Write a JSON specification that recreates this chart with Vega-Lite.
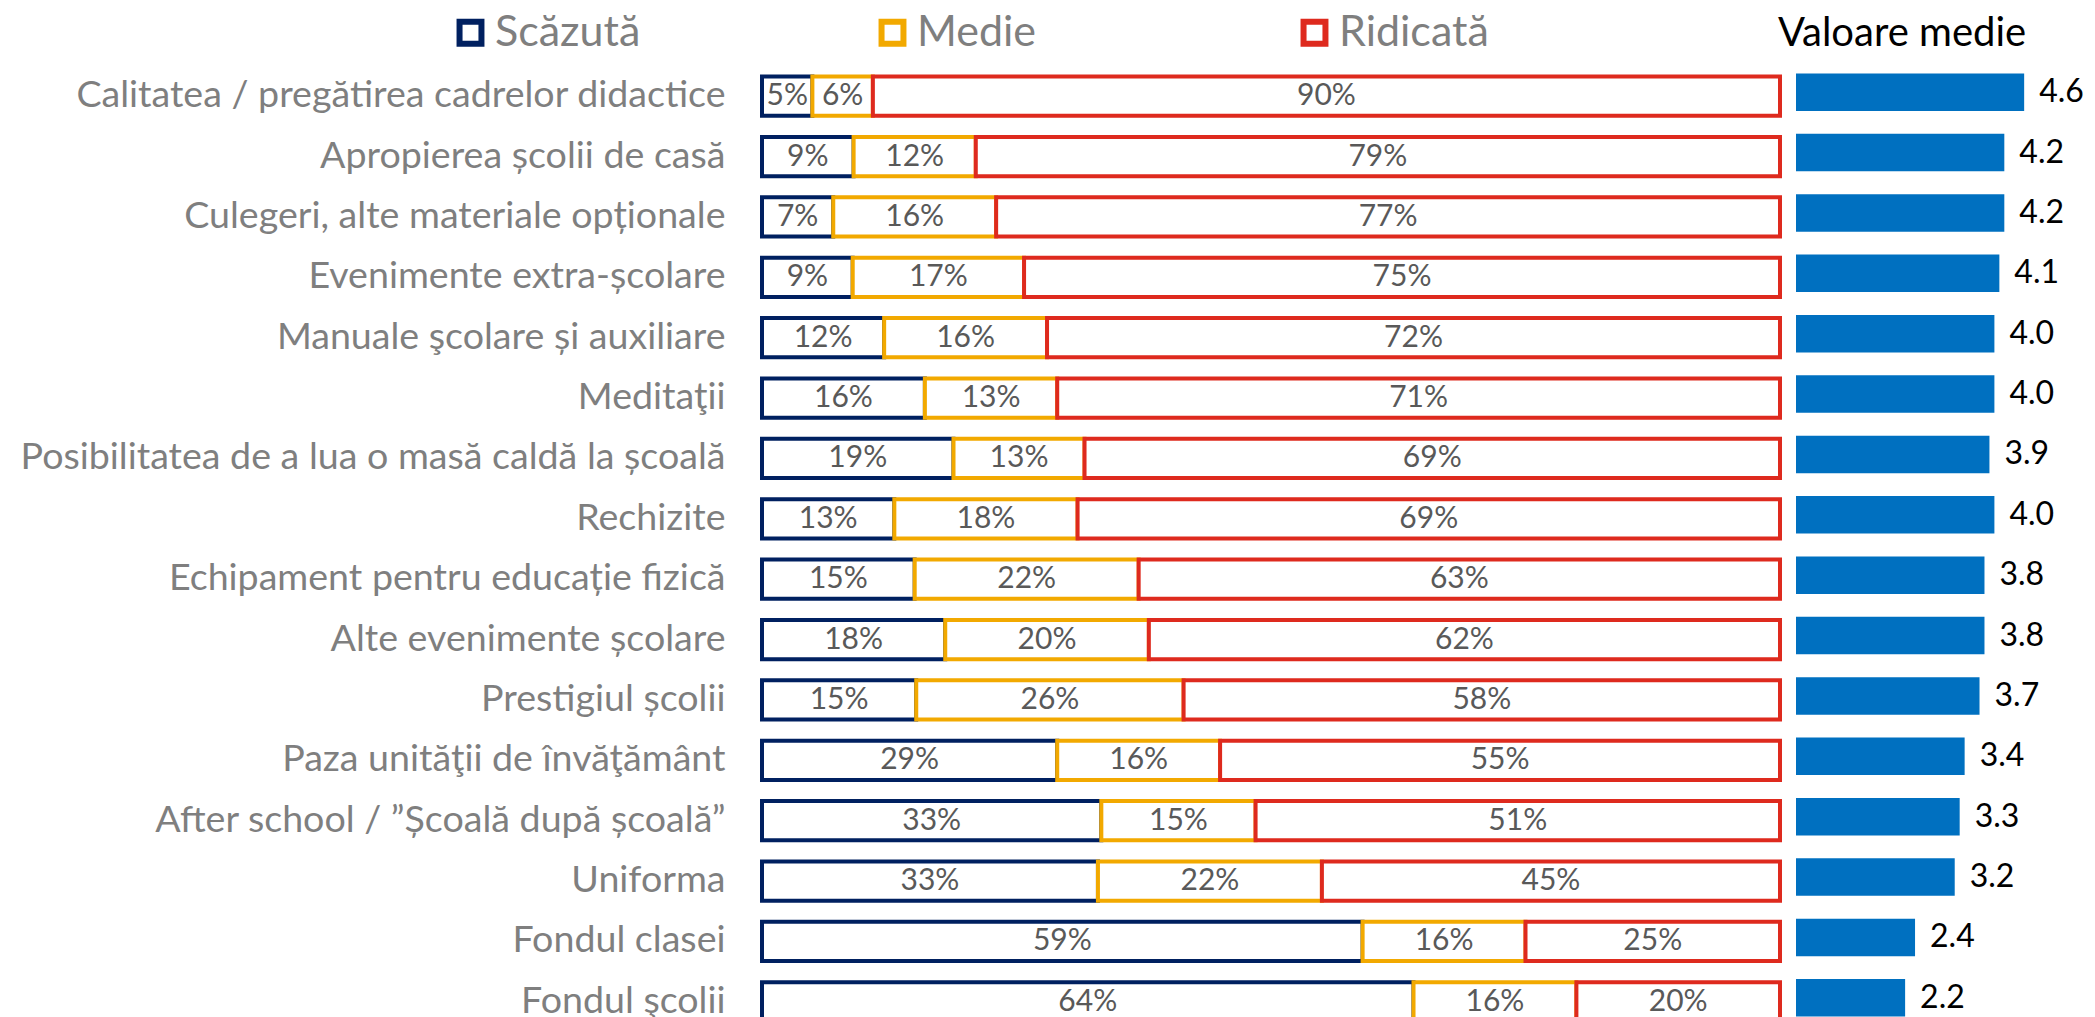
{
  "$schema": "https://vega.github.io/schema/vega-lite/v6.json",
  "background": "white",
  "padding": {"left": 5, "top": 11, "right": 5, "bottom": 5},
  "bounds": "flush",
  "config": {
    "view": {"stroke": null},
    "font": "Lato",
    "concat": {"spacing": 16}
  },
  "datasets": {
    "shares": [
      {"item": "Calitatea / pregătirea cadrelor didactice", "level": "Scăzută", "pct": 5},
      {"item": "Calitatea / pregătirea cadrelor didactice", "level": "Medie", "pct": 6},
      {"item": "Calitatea / pregătirea cadrelor didactice", "level": "Ridicată", "pct": 90},
      {"item": "Apropierea școlii de casă", "level": "Scăzută", "pct": 9},
      {"item": "Apropierea școlii de casă", "level": "Medie", "pct": 12},
      {"item": "Apropierea școlii de casă", "level": "Ridicată", "pct": 79},
      {"item": "Culegeri, alte materiale opționale", "level": "Scăzută", "pct": 7},
      {"item": "Culegeri, alte materiale opționale", "level": "Medie", "pct": 16},
      {"item": "Culegeri, alte materiale opționale", "level": "Ridicată", "pct": 77},
      {"item": "Evenimente extra-școlare", "level": "Scăzută", "pct": 9},
      {"item": "Evenimente extra-școlare", "level": "Medie", "pct": 17},
      {"item": "Evenimente extra-școlare", "level": "Ridicată", "pct": 75},
      {"item": "Manuale şcolare și auxiliare", "level": "Scăzută", "pct": 12},
      {"item": "Manuale şcolare și auxiliare", "level": "Medie", "pct": 16},
      {"item": "Manuale şcolare și auxiliare", "level": "Ridicată", "pct": 72},
      {"item": "Meditaţii", "level": "Scăzută", "pct": 16},
      {"item": "Meditaţii", "level": "Medie", "pct": 13},
      {"item": "Meditaţii", "level": "Ridicată", "pct": 71},
      {"item": "Posibilitatea de a lua o masă caldă la școală ", "level": "Scăzută", "pct": 19},
      {"item": "Posibilitatea de a lua o masă caldă la școală ", "level": "Medie", "pct": 13},
      {"item": "Posibilitatea de a lua o masă caldă la școală ", "level": "Ridicată", "pct": 69},
      {"item": "Rechizite", "level": "Scăzută", "pct": 13},
      {"item": "Rechizite", "level": "Medie", "pct": 18},
      {"item": "Rechizite", "level": "Ridicată", "pct": 69},
      {"item": "Echipament pentru educație fizică", "level": "Scăzută", "pct": 15},
      {"item": "Echipament pentru educație fizică", "level": "Medie", "pct": 22},
      {"item": "Echipament pentru educație fizică", "level": "Ridicată", "pct": 63},
      {"item": "Alte evenimente școlare", "level": "Scăzută", "pct": 18},
      {"item": "Alte evenimente școlare", "level": "Medie", "pct": 20},
      {"item": "Alte evenimente școlare", "level": "Ridicată", "pct": 62},
      {"item": "Prestigiul școlii", "level": "Scăzută", "pct": 15},
      {"item": "Prestigiul școlii", "level": "Medie", "pct": 26},
      {"item": "Prestigiul școlii", "level": "Ridicată", "pct": 58},
      {"item": "Paza unităţii de învăţământ", "level": "Scăzută", "pct": 29},
      {"item": "Paza unităţii de învăţământ", "level": "Medie", "pct": 16},
      {"item": "Paza unităţii de învăţământ", "level": "Ridicată", "pct": 55},
      {"item": "After school / ”Școală după școală”", "level": "Scăzută", "pct": 33},
      {"item": "After school / ”Școală după școală”", "level": "Medie", "pct": 15},
      {"item": "After school / ”Școală după școală”", "level": "Ridicată", "pct": 51},
      {"item": "Uniforma", "level": "Scăzută", "pct": 33},
      {"item": "Uniforma", "level": "Medie", "pct": 22},
      {"item": "Uniforma", "level": "Ridicată", "pct": 45},
      {"item": "Fondul clasei", "level": "Scăzută", "pct": 59},
      {"item": "Fondul clasei", "level": "Medie", "pct": 16},
      {"item": "Fondul clasei", "level": "Ridicată", "pct": 25},
      {"item": "Fondul şcolii", "level": "Scăzută", "pct": 64},
      {"item": "Fondul şcolii", "level": "Medie", "pct": 16},
      {"item": "Fondul şcolii", "level": "Ridicată", "pct": 20}
    ],
    "means": [
      {"item": "Calitatea / pregătirea cadrelor didactice", "mean": 4.6},
      {"item": "Apropierea școlii de casă", "mean": 4.2},
      {"item": "Culegeri, alte materiale opționale", "mean": 4.2},
      {"item": "Evenimente extra-școlare", "mean": 4.1},
      {"item": "Manuale şcolare și auxiliare", "mean": 4.0},
      {"item": "Meditaţii", "mean": 4.0},
      {"item": "Posibilitatea de a lua o masă caldă la școală ", "mean": 3.9},
      {"item": "Rechizite", "mean": 4.0},
      {"item": "Echipament pentru educație fizică", "mean": 3.8},
      {"item": "Alte evenimente școlare", "mean": 3.8},
      {"item": "Prestigiul școlii", "mean": 3.7},
      {"item": "Paza unităţii de învăţământ", "mean": 3.4},
      {"item": "After school / ”Școală după școală”", "mean": 3.3},
      {"item": "Uniforma", "mean": 3.2},
      {"item": "Fondul clasei", "mean": 2.4},
      {"item": "Fondul şcolii", "mean": 2.2}
    ]
  },
  "hconcat": [
    {
      "width": 1018,
      "height": 966,
      "data": {"name": "shares"},
      "transform": [
        {"calculate": "indexof(['Scăzută','Medie','Ridicată'], datum.level)", "as": "ord"},
        {"stack": "pct", "groupby": ["item"], "sort": [{"field": "ord", "order": "ascending"}], "offset": "normalize", "as": ["x0", "x1"]},
        {"calculate": "(datum.x0 + datum.x1) / 2", "as": "xm"},
        {"calculate": "datum.pct + '%'", "as": "label"}
      ],
      "encoding": {
        "y": {
          "field": "item",
          "type": "nominal",
          "sort": null,
          "scale": {"paddingInner": 0.35, "paddingOuter": 0.175},
          "axis": {
            "title": null,
            "ticks": false,
            "domain": false,
            "labelFontSize": 37.6,
            "labelColor": "#7f7f7f",
            "labelPadding": 37,
            "labelLimit": 1000,
            "minExtent": 757,
            "maxExtent": 757
          }
        }
      },
      "layer": [
        {
          "mark": {"type": "bar", "fill": "white", "strokeWidth": 4, "strokeJoin": "miter"},
          "encoding": {
            "x": {"field": "x0", "type": "quantitative", "scale": {"domain": [0, 1], "nice": false, "zero": false}, "axis": null},
            "x2": {"field": "x1"},
            "stroke": {
              "field": "level",
              "type": "nominal",
              "scale": {"domain": ["Scăzută", "Medie", "Ridicată"], "range": ["#002060", "#F2A900", "#DE2A1E"]},
              "legend": {
                "title": null,
                "orient": "none",
                "legendX": -313,
                "legendY": -55,
                "direction": "horizontal",
                "symbolType": "square",
                "symbolSize": 480,
                "symbolStrokeWidth": 6,
                "symbolFillColor": "white",
                "labelFontSize": 43,
                "labelColor": "#7f7f7f",
                "labelOffset": 3,
                "columnPadding": 224,
                "gridAlign": "all",
                "labelLimit": 500
              }
            }
          }
        },
        {
          "mark": {"type": "text", "fontSize": 30, "color": "#595959", "baseline": "middle", "align": "center"},
          "encoding": {
            "x": {"field": "xm", "type": "quantitative"},
            "text": {"field": "label", "type": "nominal"}
          }
        }
      ]
    },
    {
      "width": 248,
      "height": 966,
      "data": {"name": "means"},
      "title": {"text": "Valoare medie", "fontSize": 40, "font": "Lato", "fontWeight": "normal", "color": "#000000", "anchor": "middle", "offset": 12, "dx": -18},
      "encoding": {
        "y": {"field": "item", "type": "nominal", "sort": null, "scale": {"paddingInner": 0.38, "paddingOuter": 0.19}, "axis": null}
      },
      "layer": [
        {
          "mark": {"type": "bar", "color": "#0070C0", "yOffset": -4},
          "encoding": {
            "x": {"field": "mean", "type": "quantitative", "scale": {"domain": [0, 5], "nice": false}, "axis": null}
          }
        },
        {
          "mark": {"type": "text", "align": "left", "baseline": "middle", "dx": 15, "dy": -4, "fontSize": 32, "color": "#000000"},
          "encoding": {
            "x": {"field": "mean", "type": "quantitative"},
            "text": {"field": "mean", "type": "quantitative", "format": ".1f"}
          }
        }
      ]
    }
  ]
}
